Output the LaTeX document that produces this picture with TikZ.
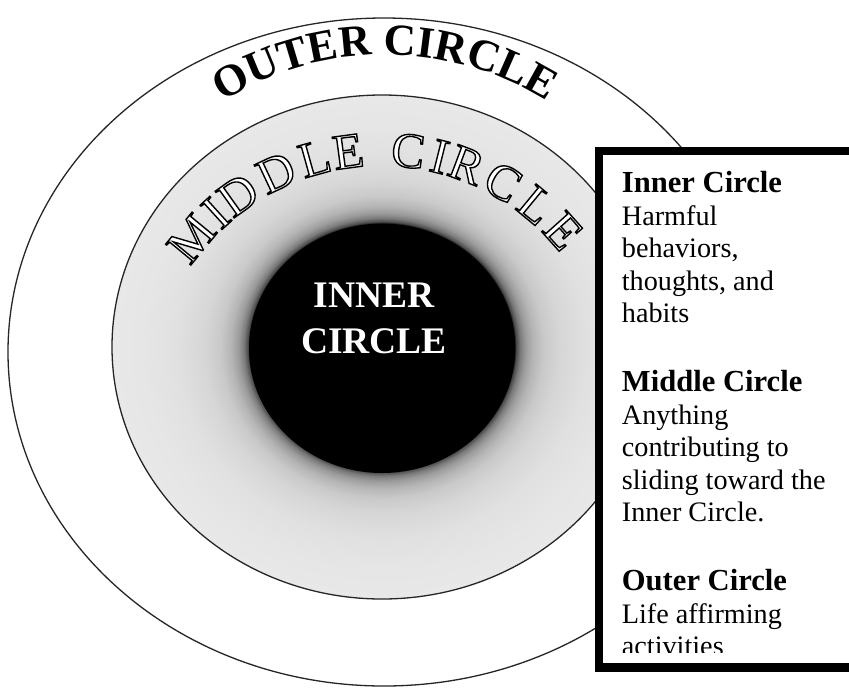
\documentclass[tikz,border=0pt]{standalone}
\usepackage{fontspec}
\setmainfont{Liberation Serif}
\usetikzlibrary{decorations.text}
\pgfdeclareradialshading{halo}{\pgfpoint{0bp}{0bp}}{color(0bp)=(black); color(12.25bp)=(black); color(12.4bp)=(black!72); color(12.8bp)=(black!52); color(13.3bp)=(black!39); color(14bp)=(black!29); color(15bp)=(black!21); color(16.5bp)=(black!16); color(19bp)=(black!12); color(22bp)=(black!10); color(25bp)=(black!9); color(50bp)=(black!9)}
\newcommand{\outlinedletter}[1]{\special{pdf:literal direct 0 G 2 Tr 1.4 w}#1\special{pdf:literal direct 0 Tr}}
\tikzset{
  ring/.style={draw=black!85, line width=1.3pt},
  bodytxt/.style={anchor=base west, inner sep=0pt, font=\fontsize{28.2}{32}\selectfont},
  headtxt/.style={anchor=base west, inner sep=0pt, font=\fontsize{30.6}{32}\selectfont\bfseries},
  innertxt/.style={anchor=base, inner sep=0pt, text=white, font=\fontsize{37.5}{40}\selectfont\bfseries},
  midletter/.style={inner sep=0pt, text=white, font=\fontsize{50}{50}\selectfont},
  legendbox/.style={draw=black, fill=white, line width=8.5pt}
}
\begin{document}
\begin{tikzpicture}[x=1pt,y=1pt]
\useasboundingbox (0,0) rectangle (849,-689);
\clip (0,0) rectangle (849,-689);
\fill[white] (0,0) rectangle (849,-689);
% outer circle
\draw[ring, fill=white] (384,-352) ellipse [x radius=376, y radius=334];
% middle circle with halo
\shade[shading=halo] (382,-347) ellipse [x radius=270, y radius=252];
\draw[ring] (382,-347) ellipse [x radius=270, y radius=252];
% inner circle
\fill[black] (382,-348.5) ellipse [x radius=133, y radius=124.5];
\node[innertxt] (inner1) at (374,-307.3) {INNER};
\node[innertxt] (inner2) at (374,-353.3) {CIRCLE};
% OUTER CIRCLE arc text
\path[decorate, decoration={text along path, text={|\fontsize{44.5}{44.5}\selectfont\bfseries|OUTER CIRCLE}, text align=center}]
  (385,-362) ++(150:307) arc[start angle=150, end angle=30, radius=307];
% MIDDLE CIRCLE outlined letters
\coordinate (mc) at (380.5,-394.4);
\foreach \L/\a [count=\i] in {M/140.5, I/132.2, D/125.5, D/115.2, L/105.6, E/97.6, C/83.5, I/76.0, R/69.4, C/60.0, L/50.5, E/41.8}
  \node[midletter, rotate=\a-90] (m\i) at ([shift={(\a:245)}]mc) {\outlinedletter{\L}};
% legend box
\draw[legendbox] (599,-151) rectangle (880,-667.5);
\node[headtxt] (t1) at (621.7,-192.5) {Inner Circle};
\node[bodytxt] (t2) at (621.7,-225) {Harmful};
\node[bodytxt] (t3) at (621.7,-257.5) {behaviors,};
\node[bodytxt] (t4) at (621.7,-290) {thoughts, and};
\node[bodytxt] (t5) at (621.7,-322.5) {habits};
\node[headtxt] (t6) at (621.7,-391.5) {Middle Circle};
\node[bodytxt] (t7) at (621.7,-424) {Anything};
\node[bodytxt] (t8) at (621.7,-456.5) {contributing to};
\node[bodytxt] (t9) at (621.7,-489) {sliding toward the};
\node[bodytxt] (t10) at (621.7,-521.5) {Inner Circle.};
\node[headtxt] (t11) at (621.7,-590.5) {Outer Circle};
\node[bodytxt] (t12) at (621.7,-623) {Life affirming};
\begin{scope}
  \clip (604,-600) rectangle (849,-652.5);
  \node[bodytxt] (t13) at (621.7,-655.5) {activities};
\end{scope}
\end{tikzpicture}
\end{document}
